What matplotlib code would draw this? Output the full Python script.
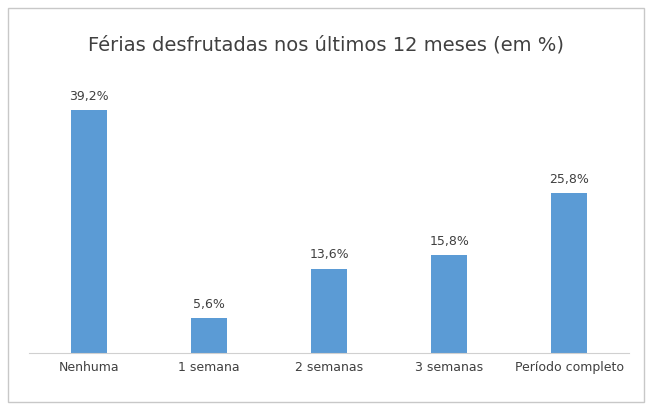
import matplotlib
matplotlib.use("Agg")
import matplotlib.pyplot as plt
from matplotlib.patches import Rectangle

categories = ["Nenhuma", "1 semana", "2 semanas", "3 semanas", "Período completo"]
values = [39.2, 5.6, 13.6, 15.8, 25.8]
labels = ["39,2%", "5,6%", "13,6%", "15,6%".replace("15,6", "15,8"), "25,8%"]

fig = plt.figure(figsize=(6.52, 4.08), dpi=100)
fig.patches.append(Rectangle((0.012, 0.015), 0.976, 0.965, transform=fig.transFigure,
                             fill=False, edgecolor="#c8c8c8", lw=1))
ax = fig.add_axes([0.045, 0.135, 0.92, 0.62])
ax.bar(range(len(values)), values, width=0.3, color="#5b9bd5")
for i, (v, l) in enumerate(zip(values, labels)):
    ax.text(i, v + 1.2, l, ha="center", va="bottom", fontsize=9, color="#404040")
ax.set_xlim(-0.5, 4.5)
ax.set_ylim(0, 39.2 / 0.96)
ax.set_xticks(range(len(values)))
ax.set_xticklabels(categories, fontsize=9, color="#404040")
ax.tick_params(axis="x", length=0, pad=6)
ax.set_yticks([])
for s in ["top", "right", "left"]:
    ax.spines[s].set_visible(False)
ax.spines["bottom"].set_color("#d0d0d0")
fig.text(0.5, 0.89, "Férias desfrutadas nos últimos 12 meses (em %)", ha="center",
         va="center", fontsize=14, color="#404040")
fig.savefig("out.png", dpi=100)
